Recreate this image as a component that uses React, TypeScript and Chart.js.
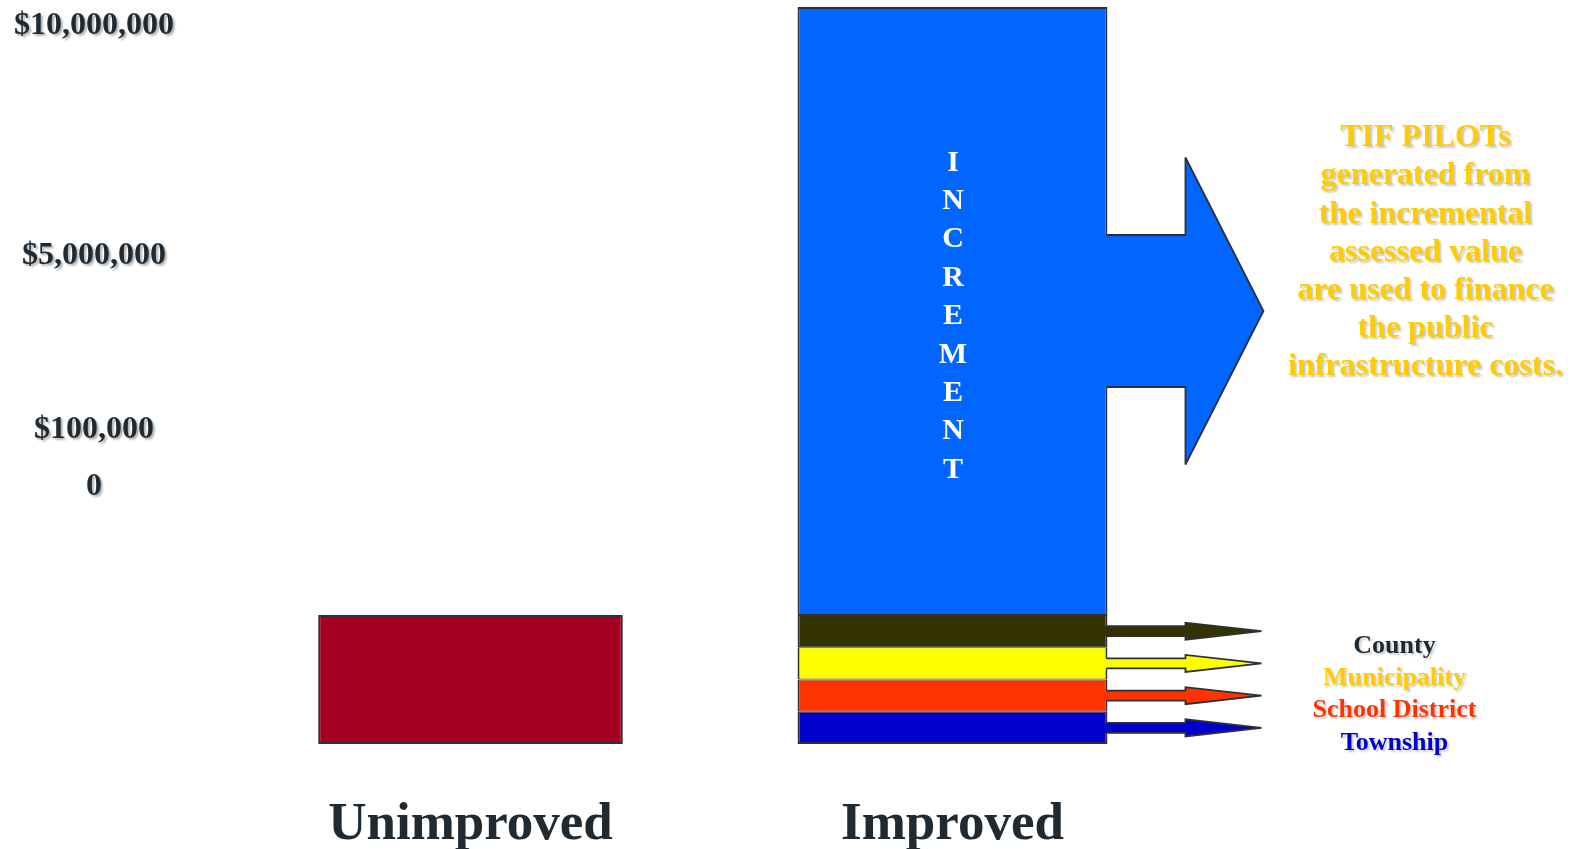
import React, { useEffect, useRef } from 'react';
import { Chart, registerables } from 'chart.js';

Chart.register(...registerables);

// ---- data ----
const categories = ['Unimproved', 'Improved'];
const unimprovedValue = [1750000, null];
const townshipValue = [null, 437500];
const schoolDistrictValue = [null, 437500];
const municipalityValue = [null, 437500];
const countyValue = [null, 437500];
const incrementValue = [null, 8250000];

// schematic (broken) value axis as printed on the original
const yTickLabels = ['0', '$100,000', '$5,000,000', '$10,000,000'];
const yTickValues = [0, 1240000, 5000000, 10000000];

const taxingUnits = ['County', 'Municipality', 'School District', 'Township'];
const taxingUnitColors = ['#1f2a33', '#FFCC00', '#FF3300', '#0000CC'];
const incrementLetters = ['I', 'N', 'C', 'R', 'E', 'M', 'E', 'N', 'T'];
const tifNoteLines = [
  'TIF PILOTs',
  'generated from',
  'the incremental',
  'assessed value',
  'are used to finance',
  'the public',
  'infrastructure costs.',
];

const SERIF = '"Liberation Serif", "Times New Roman", serif';
const EDGE = '#2d3136';

function drawArrow(ctx: CanvasRenderingContext2D, R: number, cy: number, sh: number, hh: number, hx: number, tip: number, color: string) {
  ctx.save();
  ctx.beginPath();
  ctx.moveTo(R - 2.5, cy - sh);
  ctx.lineTo(R + hx, cy - sh);
  ctx.lineTo(R + hx, cy - hh);
  ctx.lineTo(R + tip, cy);
  ctx.lineTo(R + hx, cy + hh);
  ctx.lineTo(R + hx, cy + sh);
  ctx.lineTo(R - 2.5, cy + sh);
  ctx.closePath();
  ctx.fillStyle = color;
  ctx.fill();
  ctx.beginPath();
  ctx.moveTo(R - 1, cy - sh);
  ctx.lineTo(R + hx, cy - sh);
  ctx.lineTo(R + hx, cy - hh);
  ctx.lineTo(R + tip, cy);
  ctx.lineTo(R + hx, cy + hh);
  ctx.lineTo(R + hx, cy + sh);
  ctx.lineTo(R - 1, cy + sh);
  ctx.strokeStyle = EDGE;
  ctx.lineWidth = 1.8;
  ctx.lineJoin = 'miter';
  ctx.miterLimit = 3;
  ctx.stroke();
  ctx.restore();
}

function shadowOn(ctx: CanvasRenderingContext2D) {
  ctx.shadowColor = 'rgba(0,0,0,0.3)';
  ctx.shadowOffsetX = 2;
  ctx.shadowOffsetY = 2;
  ctx.shadowBlur = 2;
}

const overlayPlugin = {
  id: 'tifOverlay',
  afterDatasetsDraw(chart: any) {
    const ctx: CanvasRenderingContext2D = chart.ctx;
    const area = chart.chartArea;
    const xs = chart.scales.x;
    const yl = chart.scales.yLabel;

    const incBar: any = chart.getDatasetMeta(5).data[1];
    const R = incBar.x + incBar.width / 2;
    const incCy = (incBar.y + incBar.base) / 2;

    // big increment arrow
    drawArrow(ctx, R, incCy, 76, 153.5, 78, 156, '#0066FF');

    // small arrows for each taxing unit (County, Municipality, School District, Township)
    const segIdx = [4, 3, 2, 1];
    segIdx.forEach((di, k) => {
      const bar: any = chart.getDatasetMeta(di).data[1];
      const cy = (bar.y + bar.base) / 2;
      const color = chart.data.datasets[di].backgroundColor;
      drawArrow(ctx, R, cy, 5, 8.5, 78, 154, color);
      ctx.save();
      shadowOn(ctx);
      ctx.shadowColor = 'rgba(0,0,0,0.2)';
      ctx.font = `bold 26px ${SERIF}`;
      ctx.textAlign = 'center';
      ctx.textBaseline = 'middle';
      ctx.fillStyle = taxingUnitColors[k];
      ctx.fillText(taxingUnits[k], R + 287, cy + 15);
      ctx.restore();
    });

    // INCREMENT letters
    ctx.save();
    ctx.font = `bold 30px ${SERIF}`;
    ctx.textAlign = 'center';
    ctx.textBaseline = 'middle';
    ctx.fillStyle = '#ffffff';
    incrementLetters.forEach((ch, i) => {
      ctx.fillText(ch, incBar.x + 0.5, incCy + 5.5 + (i - 4) * 38.4);
    });
    ctx.restore();

    // TIF note
    ctx.save();
    shadowOn(ctx);
    ctx.shadowColor = 'rgba(0,0,0,0.22)';
    ctx.font = `bold 32px ${SERIF}`;
    ctx.textAlign = 'center';
    ctx.textBaseline = 'middle';
    ctx.fillStyle = '#FFCC00';
    tifNoteLines.forEach((line, i) => {
      ctx.fillText(line, R + 318, incCy - 173 + i * 38.2);
    });
    ctx.restore();

    // value axis labels
    ctx.save();
    shadowOn(ctx);
    ctx.font = `bold 32px ${SERIF}`;
    ctx.textAlign = 'center';
    ctx.textBaseline = 'middle';
    ctx.fillStyle = '#1f2a33';
    yTickValues.forEach((v, i) => {
      ctx.fillText(yTickLabels[i], area.left - 135.5, yl.getPixelForValue(v));
    });
    ctx.restore();

    // category labels
    ctx.save();
    ctx.font = `bold 53px ${SERIF}`;
    ctx.textAlign = 'center';
    ctx.textBaseline = 'alphabetic';
    ctx.fillStyle = '#1f2a33';
    categories.forEach((c, i) => {
      ctx.fillText(c, xs.getPixelForValue(i), area.bottom + 95);
    });
    ctx.restore();
  },
};

export default function App() {
  const canvasRef = useRef<HTMLCanvasElement | null>(null);

  useEffect(() => {
    if (!canvasRef.current) return;
    const mid = { top: 1, bottom: 1, left: 2, right: 2 };
    const chart = new Chart(canvasRef.current, {
      type: 'bar',
      data: {
        labels: categories,
        datasets: [
          { label: 'Unimproved', data: unimprovedValue as any, backgroundColor: '#A50021', borderWidth: 2, barPercentage: 0.632 },
          { label: 'Township', data: townshipValue as any, backgroundColor: '#0000CC', borderWidth: { top: 1, bottom: 2, left: 2, right: 2 }, barPercentage: 0.643 },
          { label: 'School District', data: schoolDistrictValue as any, backgroundColor: '#FF3300', borderWidth: mid, barPercentage: 0.643 },
          { label: 'Municipality', data: municipalityValue as any, backgroundColor: '#FFFF00', borderWidth: mid, barPercentage: 0.643 },
          { label: 'County', data: countyValue as any, backgroundColor: '#333300', borderWidth: mid, barPercentage: 0.643 },
          { label: 'Increment', data: incrementValue as any, backgroundColor: '#0066FF', borderWidth: { top: 2, bottom: 1, left: 2, right: 2 }, barPercentage: 0.643 },
        ].map((d) => ({ ...d, borderColor: EDGE, borderSkipped: false as any, categoryPercentage: 1 })),
      },
      options: {
        animation: false,
        responsive: true,
        maintainAspectRatio: false,
        layout: { padding: { left: 229.5, right: 386.5, top: 7, bottom: 105 } },
        plugins: { legend: { display: false }, tooltip: { enabled: false }, title: { display: false } },
        scales: {
          x: { type: 'category', stacked: true, display: false, offset: true },
          y: { type: 'linear', stacked: true, display: false, min: 0, max: 10000000 },
          yLabel: { type: 'linear', display: false, min: -5586000, max: 10401000 },
        },
      },
      plugins: [overlayPlugin],
    });
    return () => chart.destroy();
  }, []);

  return (
    <div style={{ position: 'fixed', left: 0, top: 0, width: 1580, height: 849, background: '#ffffff' }}>
      <canvas ref={canvasRef} />
    </div>
  );
}
